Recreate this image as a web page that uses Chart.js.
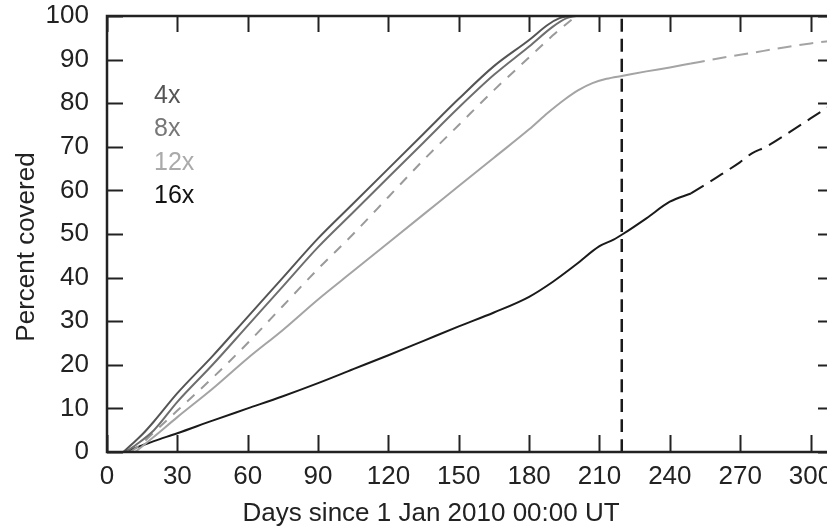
<!DOCTYPE html>
<html>
<head>
<meta charset="utf-8">
<script src="https://cdn.jsdelivr.net/npm/chart.js@4/dist/chart.umd.min.js"></script>
<style>
  html, body { margin: 0; padding: 0; overflow: hidden; background: #fff; }
  #wrap { width: 836px; height: 531px; }
</style>
</head>
<body>
<div id="wrap"><canvas id="myChart" width="836" height="531"></canvas></div>
<script>
// data
let xTicks = [0, 30, 60, 90, 120, 150, 180, 210, 240, 270, 300];
let yTicks = [0, 10, 20, 30, 40, 50, 60, 70, 80, 90, 100];
let legendLabels = ["4x", "8x", "12x", "16x"];

let days4x = [7, 10, 15, 20, 30, 45, 60, 75, 90, 105, 120, 135, 150, 165, 180, 188, 193, 197];
let pct4x  = [0, 1.5, 4, 7, 13.5, 22, 31, 40, 49, 57, 65, 73, 81, 88.5, 94.5, 98, 99.5, 100];

let days8x = [8, 12, 20, 30, 45, 60, 75, 90, 105, 120, 135, 150, 165, 180, 190, 196, 200];
let pct8x  = [0, 1.5, 5, 11.5, 20, 29, 38, 47, 55, 63, 71, 79, 86.5, 93, 97.5, 99.5, 100];

let daysMid = [10, 15, 20, 30, 45, 60, 75, 90, 105, 120, 135, 150, 165, 180, 190, 200];
let pctMid  = [0, 2, 4.5, 9.5, 17, 25, 33.5, 42, 50, 58.5, 67, 75, 83, 90.5, 95.5, 100];

let days12x = [12, 20, 30, 45, 60, 75, 90, 105, 120, 135, 150, 165, 180, 188, 195, 201, 207, 213, 220, 230, 240, 249];
let pct12x  = [0, 3.5, 8, 14.5, 21.5, 28, 35, 41.5, 48, 54.5, 61, 67.5, 74, 77.8, 80.8, 83.0, 84.6, 85.6, 86.3, 87.3, 88.2, 89.1];
let days12xExt = [249, 260, 270, 280, 290, 300, 310];
let pct12xExt  = [89.1, 90.2, 91.1, 92.0, 92.9, 93.7, 94.4];

let days16x = [7, 10, 15, 20, 30, 45, 60, 75, 90, 105, 120, 135, 150, 165, 180, 190, 200, 210, 216, 220, 230, 240, 249];
let pct16x  = [0, 0.5, 1.5, 2.5, 4.3, 7.2, 10, 12.8, 15.8, 19, 22.2, 25.5, 28.8, 32, 35.6, 39, 43, 47.2, 48.7, 50, 53.6, 57.4, 59.3];
let days16xExt = [249, 260, 270, 275, 281, 290, 300, 310];
let pct16xExt  = [59.3, 63, 66.5, 68.5, 70, 73, 76.5, 80];

let markerDay = 219.5;

function pts(xs, ys) {
  return xs.map((x, i) => ({ x: x, y: ys[i] }));
}

const FONT = "'Liberation Sans', Arial, sans-serif";
const INK = "#222";

// ticks inside the box on all four sides, the box itself, titles and the text legend
const frame = {
  id: "frame",
  afterDraw(chart) {
    const ctx = chart.ctx;
    const a = chart.chartArea;
    const sx = chart.scales.x, sy = chart.scales.y;
    ctx.save();
    ctx.strokeStyle = INK;
    ctx.lineWidth = 2;
    xTicks.forEach(v => {
      const px = Math.round(sx.getPixelForValue(v)) + 0.5;
      ctx.beginPath();
      ctx.moveTo(px, a.bottom); ctx.lineTo(px, a.bottom - 17);
      ctx.moveTo(px, a.top); ctx.lineTo(px, a.top + 16);
      ctx.stroke();
    });
    yTicks.forEach(v => {
      const py = Math.round(sy.getPixelForValue(v)) + 0.5;
      ctx.beginPath();
      ctx.moveTo(a.left, py); ctx.lineTo(a.left + 16, py);
      ctx.moveTo(a.right, py); ctx.lineTo(a.right - 16, py);
      ctx.stroke();
    });
    ctx.lineWidth = 2.5;
    ctx.strokeRect(a.left, a.top, a.right - a.left, a.bottom - a.top);

    ctx.fillStyle = INK;
    ctx.font = "26px " + FONT;
    ctx.textAlign = "center";
    ctx.textBaseline = "middle";
    ctx.fillText("Days since 1 Jan 2010 00:00 UT", 431, 514);
    ctx.save();
    ctx.translate(27, 247);
    ctx.rotate(-Math.PI / 2);
    ctx.fillText("Percent covered", 0, 0);
    ctx.restore();

    ctx.textAlign = "left";
    ctx.font = "25px " + FONT;
    const cols = ["#555", "#777", "#aaa", "#111"];
    legendLabels.forEach((t, i) => {
      ctx.fillStyle = cols[i];
      ctx.fillText(t, a.left + 47, a.top + 80 + i * 33.5);
    });
    ctx.restore();
  }
};

function line(data, color, dash, width) {
  return {
    data: data,
    borderColor: color,
    borderWidth: width || 2,
    borderDash: dash || [],
    pointRadius: 0,
    fill: false,
    tension: 0,
    cubicInterpolationMode: "monotone"
  };
}

const ctx = document.getElementById("myChart");
new Chart(ctx, {
  type: "line",
  data: {
    datasets: [
      line(pts(days4x, pct4x), "#555"),
      line(pts(days8x, pct8x), "#6e6e6e"),
      line(pts(daysMid, pctMid), "#9a9a9a", [10, 9]),
      line(pts(days12x, pct12x), "#a4a4a4"),
      line(pts(days12xExt, pct12xExt), "#a4a4a4", [14, 8]),
      line(pts(days16x, pct16x), "#1a1a1a"),
      line(pts(days16xExt, pct16xExt), "#1a1a1a", [15, 8]),
      line(pts([markerDay, markerDay], [0, 100]), "#1a1a1a", [13, 7], 2.5)
    ]
  },
  options: {
    responsive: false,
    animation: false,
    clip: true,
    layout: { padding: { top: 16, right: 2, left: 0, bottom: 0 } },
    plugins: { legend: { display: false }, tooltip: { enabled: false } },
    scales: {
      x: {
        type: "linear",
        min: 0,
        max: 310,
        afterFit(s) { s.height = 79; s.paddingLeft = 0; s.paddingRight = 0; },
        grid: { display: false, drawTicks: false },
        border: { display: false },
        ticks: {
          stepSize: 30,
          includeBounds: false,
          maxRotation: 0,
          padding: 9,
          color: INK,
          font: { family: FONT, size: 26 }
        }
      },
      y: {
        min: 0,
        max: 100,
        afterFit(s) { s.width = 107; s.paddingTop = 0; s.paddingBottom = 0; },
        grid: { display: false, drawTicks: false },
        border: { display: false },
        ticks: {
          stepSize: 10,
          padding: 18,
          color: INK,
          font: { family: FONT, size: 26 }
        }
      }
    }
  },
  plugins: [frame]
});
</script>
</body>
</html>
